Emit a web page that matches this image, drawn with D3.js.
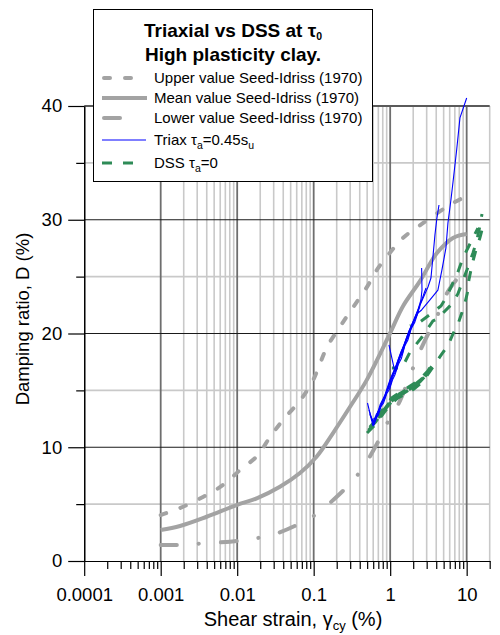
<!DOCTYPE html>
<html>
<head>
<meta charset="utf-8">
<script src="https://cdn.jsdelivr.net/npm/d3@7"></script>
<style>
  body { margin: 0; background: #fff; }
  svg { display: block; font-family: "Liberation Sans", Arial, sans-serif; }
</style>
</head>
<body>
<svg id="chart" width="500" height="635"></svg>
<script>
// ---- Axis ticks ----
const xTickValues = [0.0001, 0.001, 0.01, 0.1, 1, 10];
const xTickLabels = ["0.0001", "0.001", "0.01", "0.1", "1", "10"];
const yMajorTicks = [0, 10, 20, 30, 40];
const yMinorTicks = [5, 15, 25, 35];

// ---- Seed-Idriss (1970) damping curves: [shear strain %, damping %] ----
const upperSeedIdriss = [[0.001,4.04],[0.00179,4.66],[0.00357,5.63],[0.00652,6.68],[0.0109,8.0],[0.0182,9.23],[0.0269,10.9],[0.0397,12.4],[0.0662,14.1],[0.0951,15.7],[0.117,17.1],[0.149,18.8],[0.221,20.6],[0.327,22.3],[0.498,24.1],[0.671,25.6],[0.993,27.1],[1.47,28.4],[2.68,29.7],[6.04,31.3],[10,32.1]];
const meanSeedIdriss = [[0.001,2.73],[0.00179,3.08],[0.00399,3.89],[0.00984,4.92],[0.018,5.51],[0.0362,6.53],[0.0662,7.74],[0.109,9.17],[0.179,11.25],[0.299,13.56],[0.493,15.9],[0.993,20.0],[1.47,22.4],[2.45,24.6],[4.06,27.05],[6.62,28.4],[10,28.75]];
const lowerSeedIdriss = [[0.001,1.41],[0.00179,1.41],[0.00379,1.56],[0.00805,1.70],[0.0147,1.91],[0.0305,2.35],[0.063,3.23],[0.104,4.04],[0.186,5.45],[0.33,7.12],[0.455,8.35],[0.678,10.35],[0.993,12.57],[1.26,13.7],[1.71,15.8],[2.24,17.85],[2.85,19.4],[4.09,21.5],[5.69,23.7],[7.69,24.9],[10,25.8]];

// ---- Triaxial tests, tau_a = 0.45 s_u ----
const triaxA = [[0.505,13.89],[0.596,11.87],[0.692,13.10],[0.805,14.07],[0.908,15.03],[1.054,16.26],[1.262,17.49],[1.469,18.73],[1.706,19.96],[1.982,21.01],[2.307,22.07],[2.523,22.95],[2.606,23.82],[2.576,25.76]];
const triaxB = [[0.528,13.27],[0.614,11.96],[0.714,13.19],[0.830,14.33],[0.964,15.38],[1.119,16.62],[1.300,17.85],[1.514,18.99],[1.762,20.22],[2.042,21.19],[2.523,22.68],[3.119,24.09],[3.412,24.88],[3.622,26.73],[3.846,28.66],[4.083,30.15],[4.345,31.30]];
const triaxC = [[0.964,18.99],[1.153,16.62],[1.300,17.67],[1.514,18.81],[1.762,20.04],[2.042,21.10],[2.307,21.80],[2.576,22.07],[3.311,22.95],[4.207,23.82],[4.742,25.58],[5.358,27.52],[5.689,29.71],[6.223,31.74],[6.607,33.23],[7.396,36.13],[8.166,38.95],[10.0,40.70]];
const triaxD = [[0.561,12.40],[0.652,12.57],[0.736,13.71],[0.855,14.59],[0.993,15.91],[1.189,17.14],[1.383,18.37],[1.607,19.34],[1.866,20.48],[2.173,21.54],[2.449,22.51],[2.938,24.00]];
const triaxE = [[0.54,12.9],[0.60,12.2],[0.66,12.9],[0.72,13.3],[0.78,13.9],[0.84,14.2],[0.92,15.0],[1.0,15.4],[1.1,16.3],[1.2,16.8],[1.33,17.8],[1.45,18.3],[1.6,19.3],[1.75,19.8],[1.95,20.8],[2.2,21.5],[2.45,22.4]];
const triaxF = [[0.58,12.0],[0.64,12.6],[0.70,12.8],[0.76,13.6],[0.82,13.9],[0.90,14.7],[0.98,15.1],[1.07,15.9],[1.16,16.4],[1.28,17.3],[1.40,17.8],[1.55,18.9],[1.70,19.4],[1.88,20.4],[2.1,21.0],[2.35,22.0]];

// ---- DSS tests, tau_a = 0 ----
const dssA = [[0.498,11.25],[0.632,11.96],[0.805,12.92],[0.993,13.71],[1.262,14.33],[1.607,14.68],[2.042,15.12],[2.449,15.56],[2.938,16.18],[3.412,16.79],[4.477,17.96],[5.74,18.99],[6.68,20.02],[7.76,20.90],[8.61,21.78],[9.48,22.65],[10.18,23.53],[10.69,24.70],[11.72,26.02],[13.21,27.34],[14.89,28.40],[15.85,29.10]];
const dssB = [[0.52,11.5],[0.66,12.3],[0.83,13.2],[1.02,14.0],[1.30,14.55],[1.65,14.95],[2.10,15.4],[2.55,15.85],[3.05,16.45],[3.5,17.0]];
const dssC = [[0.55,11.9],[0.70,12.8],[0.86,13.6],[1.05,14.35],[1.35,14.85],[1.70,15.25],[2.15,15.7],[2.6,16.15],[3.1,16.7],[3.45,17.2]];
const dssF = [[0.50,11.45],[0.64,12.2],[0.80,13.1],[1.0,13.85],[1.25,14.45],[1.6,14.85],[2.0,15.3],[2.45,15.75],[2.95,16.35],[3.4,16.95]];
const dssG = [[0.53,11.7],[0.68,12.55],[0.85,13.4],[1.04,14.15],[1.32,14.7],[1.68,15.1],[2.12,15.55],[2.58,16.0],[3.08,16.6],[3.48,17.1]];
const dssD = [[1.054,16.97],[1.426,16.97],[1.815,18.37],[2.606,19.69],[3.622,21.10],[4.207,21.3],[4.898,21.8],[6.412,22.6],[7.691,23.5],[8.414,24.2],[10.07,25.58],[12.08,27.08],[13.61,28.22],[14.89,29.45],[15.85,30.51]];
const dssE = [[1.815,20.66],[2.449,21.01],[3.516,21.80],[4.613,22.42],[5.358,23.12],[6.412,24.26],[7.691,25.41],[8.933,26.64],[10.38,27.52],[12.08,28.40],[14.03,29.27]];

const grey = "#a3a3a3";
const blue = "#0000ff";
const green = "#2e8b57";
const upperDash = "6,15";
const lowerDash = "16,22,0.1,22";
const dssDash = "10,11";

const svg = d3.select("#chart");
const x = d3.scaleLog().domain([0.0001, 20]).range([84.2, 489.7]);
const y = d3.scaleLinear().domain([0, 40]).range([561, 106]);

// minor log ticks 2..9 in each decade
const xMinor = [];
for (let e = -4; e <= 1; e++) {
  for (let k = 2; k <= 9; k++) {
    const v = +(k * Math.pow(10, e)).toPrecision(3);
    if (v <= 20) xMinor.push(v);
  }
}

// ---- grid ----
const grid = svg.append("g");
grid.selectAll(".vminor").data(xMinor.filter(v => v >= 0.001)).join("line")
  .attr("x1", d => x(d)).attr("x2", d => x(d))
  .attr("y1", y(0)).attr("y2", y(40))
  .attr("stroke", "#c9c9c9").attr("stroke-width", 1.6);
grid.selectAll(".hminor").data(yMinorTicks).join("line")
  .attr("x1", x(0.0001)).attr("x2", x(20))
  .attr("y1", d => y(d)).attr("y2", d => y(d))
  .attr("stroke", "#c9c9c9").attr("stroke-width", 1.6);
grid.selectAll(".vmajor").data([0.001, 0.01, 0.1, 1, 10]).join("line")
  .attr("x1", d => x(d)).attr("x2", d => x(d))
  .attr("y1", y(0)).attr("y2", y(40))
  .attr("stroke", "#6e6e6e").attr("stroke-width", 1.8);
grid.selectAll(".hmajor").data([10, 20, 30]).join("line")
  .attr("x1", x(0.0001)).attr("x2", x(20))
  .attr("y1", d => y(d)).attr("y2", d => y(d))
  .attr("stroke", "#1a1a1a").attr("stroke-width", 1.1);
grid.append("line")
  .attr("x1", x(0.0001)).attr("x2", x(20))
  .attr("y1", y(40)).attr("y2", y(40))
  .attr("stroke", "#5a5a5a").attr("stroke-width", 1.8);

// ---- axes ----
function styleAxis(g) {
  g.select(".domain").attr("stroke", "#000").attr("stroke-width", 1.2);
  g.selectAll(".tick line").attr("stroke", "#000").attr("stroke-width", 1.2);
  g.selectAll("text").attr("font-size", 18.5).attr("fill", "#000")
    .attr("font-family", '"Liberation Sans", Arial, sans-serif');
}
svg.append("g").attr("transform", `translate(0,${y(0)})`)
  .call(d3.axisBottom(x).tickValues(xMinor).tickSize(8).tickSizeOuter(0).tickFormat(""))
  .call(styleAxis);
svg.append("g").attr("transform", `translate(0,${y(0)})`)
  .call(d3.axisBottom(x).tickValues(xTickValues).tickSize(15).tickSizeOuter(0).tickPadding(12)
    .tickFormat((d, i) => xTickLabels[i]))
  .call(styleAxis);
svg.append("g").attr("transform", `translate(${x(0.0001)},0)`)
  .call(d3.axisLeft(y).tickValues(yMinorTicks).tickSize(8).tickSizeOuter(0).tickFormat(""))
  .call(styleAxis);
svg.append("g").attr("transform", `translate(${x(0.0001)},0)`)
  .call(d3.axisLeft(y).tickValues(yMajorTicks).tickSize(16).tickSizeOuter(0).tickPadding(6))
  .call(styleAxis);

// axis titles
const xt = svg.append("text").attr("x", 293).attr("y", 626)
  .attr("text-anchor", "middle").attr("font-size", 20);
xt.append("tspan").text("Shear strain, \u03b3");
xt.append("tspan").text("cy").attr("font-size", 13).attr("dy", 4);
xt.append("tspan").text(" (%)").attr("dy", -4);
svg.append("text").attr("transform", "translate(29,319) rotate(-90)")
  .attr("text-anchor", "middle").attr("font-size", 18.5).text("Damping ratio, D (%)");

// ---- curves ----
const smooth = d3.line().x(d => x(d[0])).y(d => y(d[1])).curve(d3.curveCatmullRom.alpha(0.5));
const straight = d3.line().x(d => x(d[0])).y(d => y(d[1]));
const plot = svg.append("g").attr("fill", "none");

plot.append("path").attr("d", smooth(upperSeedIdriss))
  .attr("stroke", grey).attr("stroke-width", 4).attr("stroke-dasharray", upperDash).attr("stroke-linecap", "round");
plot.append("path").attr("d", smooth(meanSeedIdriss))
  .attr("stroke", grey).attr("stroke-width", 4);
plot.append("path").attr("d", smooth(lowerSeedIdriss))
  .attr("stroke", grey).attr("stroke-width", 4).attr("stroke-dasharray", lowerDash).attr("stroke-linecap", "round");

[dssA, dssB, dssC, dssF, dssG, dssD, dssE].forEach((s, i) => {
  plot.append("path").attr("d", straight(s))
    .attr("stroke", green).attr("stroke-width", 3)
    .attr("stroke-dasharray", dssDash).attr("stroke-dashoffset", i * 5);
});
[triaxA, triaxB, triaxC, triaxD, triaxE, triaxF].forEach(s => {
  plot.append("path").attr("d", straight(s))
    .attr("stroke", blue).attr("stroke-width", 1.1).attr("stroke-linejoin", "round");
});

// ---- legend ----
const lg = svg.append("g");
lg.append("rect").attr("x", 93.5).attr("y", 9.5).attr("width", 279).attr("height", 172)
  .attr("fill", "#fff").attr("stroke", "#000").attr("stroke-width", 1);
const t1 = lg.append("text").attr("x", 233).attr("y", 37).attr("text-anchor", "middle")
  .attr("font-size", 19).attr("font-weight", "bold");
t1.append("tspan").text("Triaxial vs DSS at \u03c4");
t1.append("tspan").text("0").attr("font-size", 10.5).attr("dy", 2.5);
lg.append("text").attr("x", 233).attr("y", 60.5).attr("text-anchor", "middle")
  .attr("font-size", 19).attr("font-weight", "bold").text("High plasticity clay.");

const entries = [
  { yc: 78, parts: [["Upper value Seed-Idriss (1970)"]], stroke: grey, w: 4, dash: upperDash, cap: "round", x1: 104, x2: 131 },
  { yc: 98, parts: [["Mean value Seed-Idriss (1970)"]], stroke: grey, w: 4, dash: null, cap: "butt", x1: 102, x2: 147 },
  { yc: 118, parts: [["Lower value Seed-Idriss (1970)"]], stroke: grey, w: 4, dash: lowerDash, cap: "round", x1: 104, x2: 120 },
  { yc: 140, parts: [["Triax \u03c4"], ["a", "sub"], ["=0.45s"], ["u", "sub"]], stroke: blue, w: 1.1, dash: null, cap: "butt", x1: 102, x2: 146 },
  { yc: 163, parts: [["DSS \u03c4"], ["a", "sub"], ["=0"]], stroke: green, w: 3, dash: dssDash, cap: "butt", x1: 102, x2: 134 }
];
entries.forEach(e => {
  const ln = lg.append("line").attr("x1", e.x1).attr("x2", e.x2).attr("y1", e.yc).attr("y2", e.yc)
    .attr("stroke", e.stroke).attr("stroke-width", e.w).attr("stroke-linecap", e.cap);
  if (e.dash) ln.attr("stroke-dasharray", e.dash);
  const tx = lg.append("text").attr("x", 154).attr("y", e.yc + 5).attr("font-size", 15);
  let sub = false;
  e.parts.forEach(p => {
    const ts = tx.append("tspan").text(p[0]);
    if (p[1] === "sub") { ts.attr("font-size", 10.5).attr("dy", 4); sub = true; }
    else if (sub) { ts.attr("dy", -4); sub = false; }
  });
});
</script>
</body>
</html>
